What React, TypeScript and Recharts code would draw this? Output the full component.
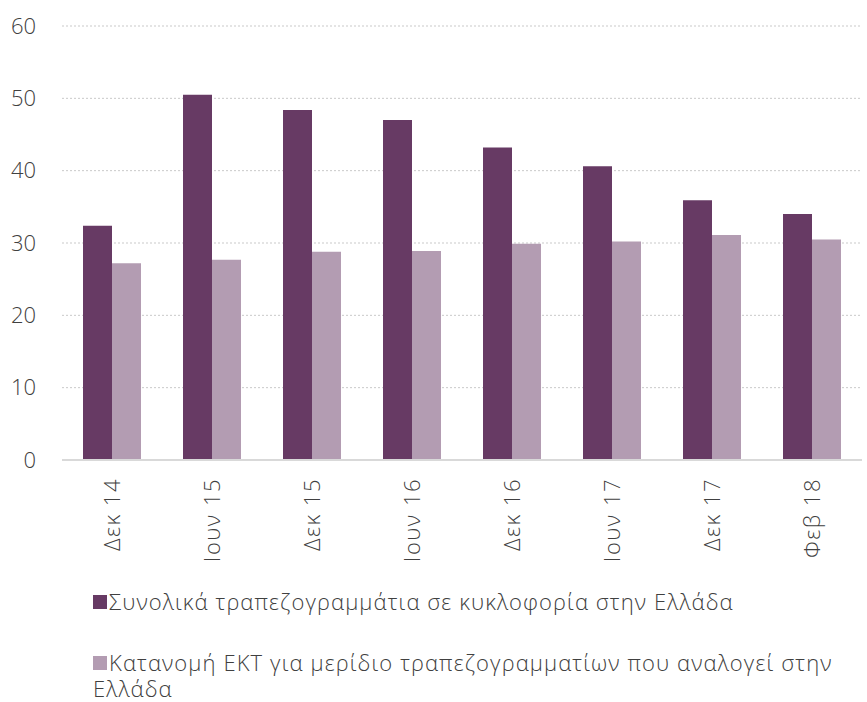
import { BarChart, Bar, XAxis, YAxis, CartesianGrid } from 'recharts';

const categories = ['Δεκ 14', 'Ιουν 15', 'Δεκ 15', 'Ιουν 16', 'Δεκ 16', 'Ιουν 17', 'Δεκ 17', 'Φεβ 18'];
const totalInGreece = [32.4, 50.5, 48.4, 47.0, 43.2, 40.6, 35.9, 34.0];
const ecbAllocation = [27.2, 27.7, 28.8, 28.9, 29.9, 30.2, 31.1, 30.5];
const yTicks = [0, 10, 20, 30, 40, 50, 60];

const seriesNames = [
  'Συνολικά τραπεζογραμμάτια σε κυκλοφορία στην Ελλάδα',
  'Κατανομή ΕΚΤ για μερίδιο τραπεζογραμματίων που αναλογεί στην Ελλάδα',
];

const DARK = '#673a64';
const LIGHT = '#b39cb2';
const TEXT = '#404040';
const FONT = '"Open Sans", sans-serif';

const data = categories.map((name, i) => ({
  name,
  total: totalInGreece[i],
  ecb: ecbAllocation[i],
}));

function RotatedTick({ x, y, payload }: any) {
  return (
    <text
      x={x}
      y={y + 18}
      dy={8}
      transform={`rotate(-90, ${x}, ${y + 18})`}
      textAnchor="end"
      fill={TEXT}
      fontSize={22}
      fontWeight={300}
      fontFamily={FONT}
      letterSpacing={1.5}
    >
      {payload.value}
    </text>
  );
}

export default function App() {
  return (
    <div style={{ position: 'absolute', left: 0, top: 0, width: 867, height: 702, background: '#fff' }}>
      <BarChart
        width={867}
        height={580}
        data={data}
        margin={{ top: 26, right: 5, left: 0, bottom: 0 }}
        barCategoryGap="21%"
        barGap={0}
      >
        <CartesianGrid vertical={false} stroke="#c9c9c9" strokeDasharray="2 2" />
        <YAxis
          width={62}
          domain={[0, 60]}
          ticks={yTicks}
          axisLine={false}
          tickLine={false}
          tickSize={0}
          tickMargin={26}
          tick={{ fill: TEXT, fontSize: 22, fontWeight: 300, fontFamily: FONT }}
        />
        <XAxis
          dataKey="name"
          height={120}
          interval={0}
          tickLine={false}
          tickSize={0}
          tickMargin={0}
          axisLine={{ stroke: '#d9d9d9', strokeWidth: 2 }}
          tick={<RotatedTick />}
        />
        <Bar dataKey="total" fill={DARK} isAnimationActive={false} />
        <Bar dataKey="ecb" fill={LIGHT} isAnimationActive={false} />
      </BarChart>
      <div
        style={{
          position: 'absolute',
          left: 93,
          top: 588,
          width: 770,
          fontFamily: FONT,
          fontWeight: 300,
          fontSize: 22,
          lineHeight: '26px',
          letterSpacing: 1.1,
          color: TEXT,
        }}
      >
        {seriesNames.map((label, i) => (
          <div key={label} style={{ marginTop: i === 0 ? 0 : 35 }}>
            <span
              style={{
                display: 'inline-block',
                width: 14,
                height: 14,
                marginRight: 2,
                marginBottom: 1,
                background: i === 0 ? DARK : LIGHT,
              }}
            />
            {label}
          </div>
        ))}
      </div>
    </div>
  );
}
